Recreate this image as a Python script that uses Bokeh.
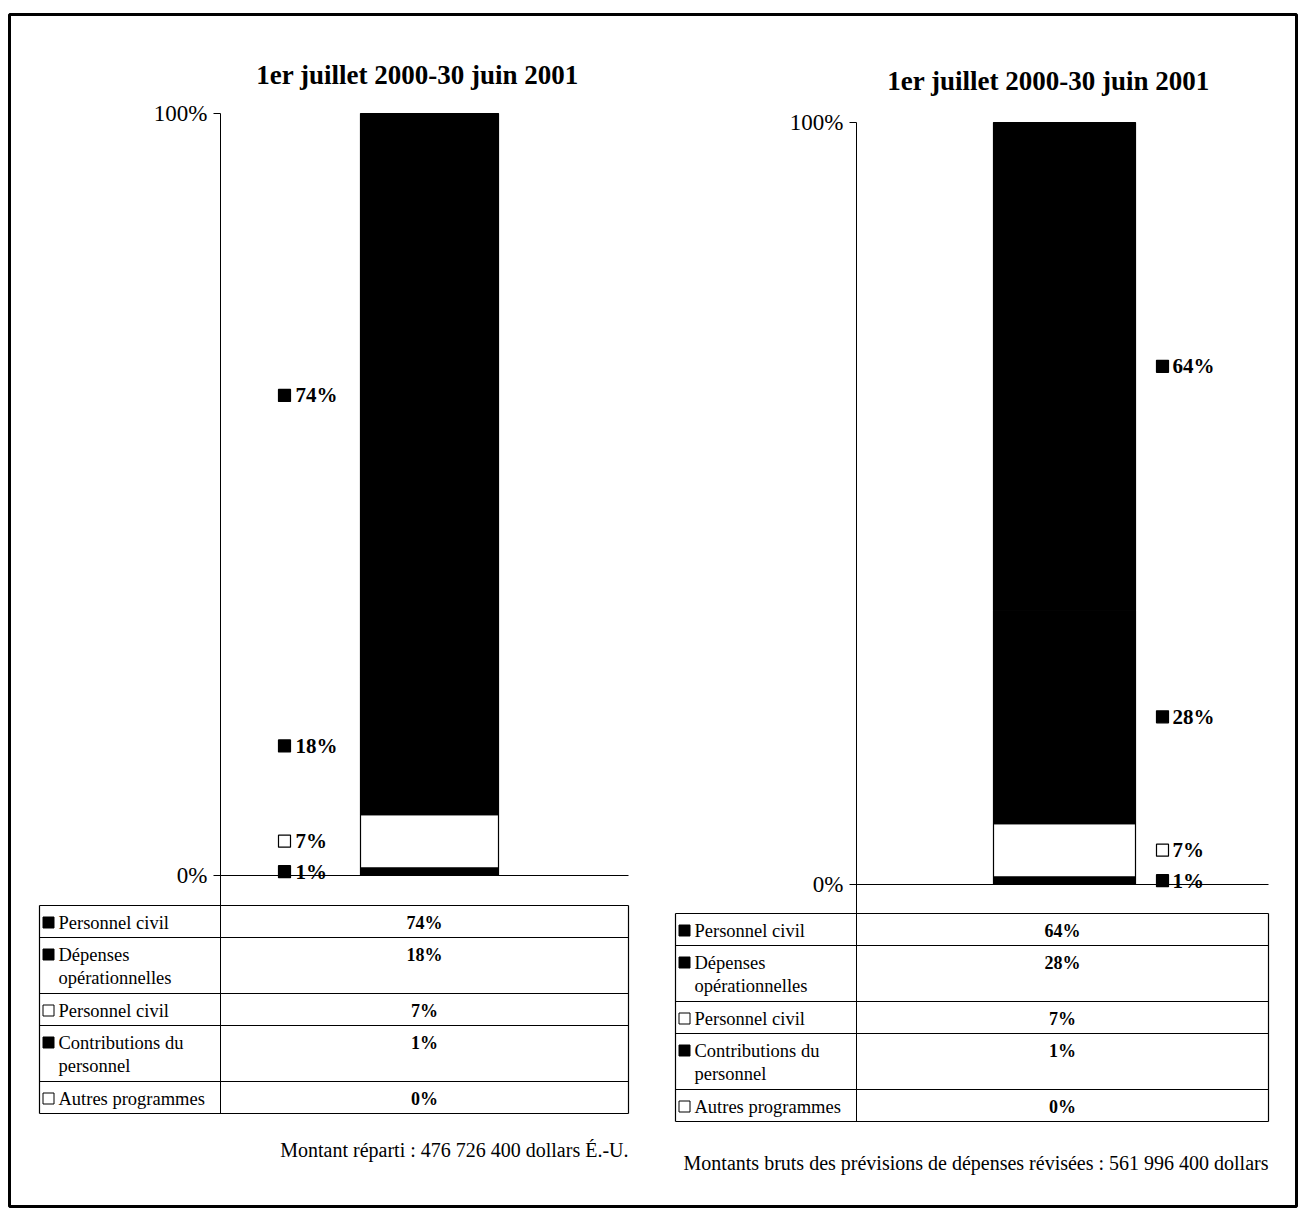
import textwrap
from bokeh.plotting import figure
from bokeh.models import Range1d, LinearAxis, FixedTicker, NumeralTickFormatter, ColumnDataSource
from bokeh.core.properties import value
from bokeh.embed import file_html
from bokeh.resources import INLINE

# ---------------- data ----------------
chart_titles = ["1er juillet 2000-30 juin 2001", "1er juillet 2000-30 juin 2001"]
series_keys = ["pc_noir", "dep", "pc_blanc", "contrib", "autres"]          # table order, top to bottom
series_labels = ["Personnel civil", "Dépenses opérationnelles", "Personnel civil",
                 "Contributions du personnel", "Autres programmes"]
series_fill = ["black", "black", "white", "black", "white"]
left_values = [0.74, 0.18, 0.07, 0.01, 0.00]
right_values = [0.64, 0.28, 0.07, 0.01, 0.00]
axis_ticks = [0, 1]
notes = ["Montant réparti : 476 726 400 dollars É.-U.",
         "Montants bruts des prévisions de dépenses révisées : 561 996 400 dollars"]

# ---------------- layout ----------------
W, H = 1298, 1217
FL, FR, FT, FB = 9, 1296, 14, 1206
FONT = value("Liberation Serif")

panels = [
    dict(name="gauche", values=left_values, title=chart_titles[0], note=notes[0],
         axis_x=220, y0=875, y100=113, bar_x=429, bar_w=138,
         mk_x=284, tx_x=295, table_l=39, table_r=628, table_t=905,
         title_x=417, title_y=74, note_y=1149),
    dict(name="droite", values=right_values, title=chart_titles[1], note=notes[1],
         axis_x=856, y0=884, y100=122, bar_x=1064, bar_w=142,
         mk_x=1162, tx_x=1172, table_l=675, table_r=1268, table_t=913,
         title_x=1048, title_y=80, note_y=1162),
]

def chart_range(pn):
    s = pn["y0"] - pn["y100"]
    return Range1d(start=(pn["y0"] - FB) / s, end=(pn["y0"] - FT) / s)

def to_units(pn, px):
    return (pn["y0"] - px) / (pn["y0"] - pn["y100"])

p = figure(width=W, height=H, x_axis_type=None, y_axis_type=None,
           x_range=Range1d(FL, FR), y_range=chart_range(panels[0]),
           output_backend="svg", toolbar_location=None,
           min_border_left=FL, min_border_right=W - FR,
           min_border_top=FT, min_border_bottom=H - FB)
p.extra_y_ranges = {"droite": chart_range(panels[1]),
                    "page": Range1d(start=FB, end=FT)}
p.outline_line_color = "black"
p.outline_line_width = 3
p.background_fill_color = "white"
p.border_fill_color = "white"

ROW1, ROW2, LINE_DY, FIRST_DY = 32, 56, 23, 17

for i, pn in enumerate(panels):
    rng = "default" if i == 0 else "droite"
    vals = pn["values"]

    # data table geometry
    tl, tr, tt = pn["table_l"], pn["table_r"], pn["table_t"]
    tops, lines_all = [], []
    y = tt
    for lab in series_labels:
        ls = textwrap.wrap(lab, 17)
        tops.append(y)
        lines_all.append(ls)
        y += ROW1 if len(ls) == 1 else ROW2
    tb = y

    # axis
    ax = LinearAxis(fixed_location=pn["axis_x"],
                    ticker=FixedTicker(ticks=axis_ticks),
                    formatter=NumeralTickFormatter(format="0%"),
                    bounds=(to_units(pn, tb), 1.0))
    if i == 1:
        ax.y_range_name = "droite"
    ax.axis_line_color = "black"
    ax.axis_line_width = 1
    ax.major_tick_out = 7
    ax.major_tick_in = 0
    ax.minor_tick_line_color = None
    ax.major_label_text_font = "Liberation Serif"
    ax.major_label_text_font_size = "23px"
    ax.major_label_text_color = "black"
    ax.major_label_standoff = 6
    p.add_layout(ax, "left")

    # baseline at 0%
    p.segment(x0=[pn["axis_x"]], y0=[axis_ticks[0]], x1=[pn["table_r"]], y1=[axis_ticks[0]],
              line_color="black", line_width=1.2, y_range_name=rng)

    # stacked bar (bottom to top = reverse of table order)
    keys_bu = series_keys[::-1]
    vals_bu = vals[::-1]
    fills_bu = series_fill[::-1]
    src = ColumnDataSource({"x": [pn["bar_x"]], **{k: [v] for k, v in zip(keys_bu, vals_bu)}})
    p.vbar_stack(keys_bu, x="x", width=pn["bar_w"], source=src,
                 fill_color=fills_bu, line_color=["black"] * len(keys_bu), line_width=1.2,
                 y_range_name=rng)

    # data labels at segment centres
    mids, labs, fills = [], [], []
    cum = 0.0
    for v, f in zip(vals_bu, fills_bu):
        if v > 0:
            mids.append(cum + v / 2)
            labs.append(f"{round(v * 100)}%")
            fills.append(f)
        cum += v
    p.scatter(x=[pn["mk_x"]] * len(mids), y=mids, marker="square", size=12,
              fill_color=fills, line_color="black", line_width=1.2, y_range_name=rng)
    p.text(x=[pn["tx_x"]] * len(mids), y=mids, text=labs, text_font=FONT,
           text_font_size="21px", text_font_style="bold", text_color="black",
           text_align="left", text_baseline="middle", y_range_name=rng)

    # title
    p.text(x=[pn["title_x"]], y=[pn["title_y"]], text=[pn["title"]], text_font=FONT,
           text_font_size="27px", text_font_style="bold", text_color="black",
           text_align="center", text_baseline="middle", y_range_name="page")

    # data table drawing
    bounds_y = tops + [tb]
    p.segment(x0=[tl] * len(bounds_y), y0=bounds_y, x1=[tr] * len(bounds_y), y1=bounds_y,
              line_color="black", line_width=1.2, y_range_name="page")
    p.segment(x0=[tl, tr], y0=[tt, tt], x1=[tl, tr], y1=[tb, tb],
              line_color="black", line_width=1.2, y_range_name="page")
    p.scatter(x=[tl + 9] * len(tops), y=[t + FIRST_DY for t in tops], marker="square", size=11,
              fill_color=series_fill, line_color="black", line_width=1, y_range_name="page")
    tx, ty, tt_ = [], [], []
    for t, ls in zip(tops, lines_all):
        for j, s in enumerate(ls):
            tx.append(tl + 19)
            ty.append(t + FIRST_DY + j * LINE_DY)
            tt_.append(s)
    p.text(x=tx, y=ty, text=tt_, text_font=FONT, text_font_size="18.5px", text_color="black",
           text_align="left", text_baseline="middle", y_range_name="page")
    vx = (pn["axis_x"] + tr) / 2
    p.text(x=[vx] * len(tops), y=[t + FIRST_DY for t in tops],
           text=[f"{round(v * 100)}%" for v in vals], text_font=FONT, text_font_size="18px",
           text_font_style="bold", text_color="black", text_align="center",
           text_baseline="middle", y_range_name="page")

    # footnote
    p.text(x=[tr], y=[pn["note_y"]], text=[pn["note"]], text_font=FONT, text_font_size="20px",
           text_color="black", text_align="right", text_baseline="middle", y_range_name="page")

open("out.html", "w").write(file_html(p, INLINE))
